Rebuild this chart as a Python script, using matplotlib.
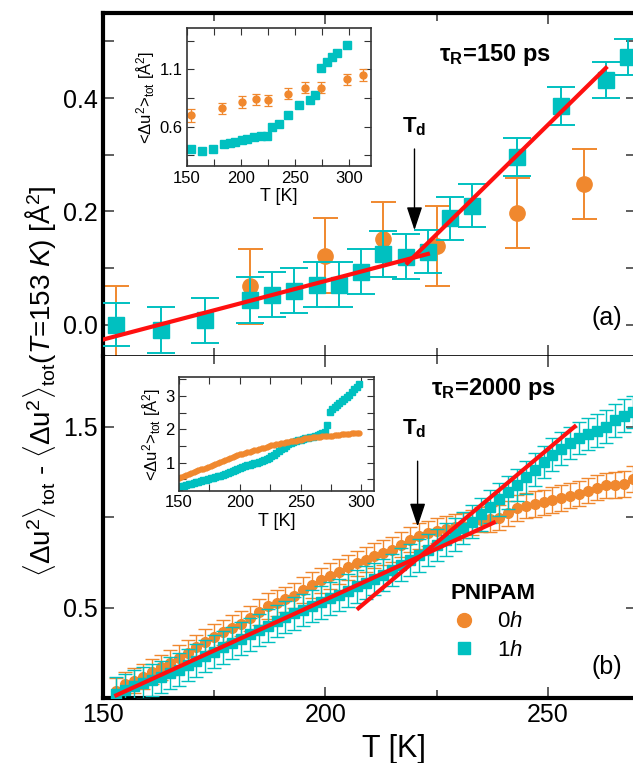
import matplotlib
matplotlib.use('Agg')
import matplotlib.pyplot as plt
from matplotlib.lines import Line2D
from matplotlib.ticker import MultipleLocator

plt.rcParams['font.family'] = ['Liberation Sans', 'DejaVu Sans']
plt.rcParams['mathtext.fontset'] = 'custom'
plt.rcParams['mathtext.rm'] = 'Liberation Sans'
plt.rcParams['mathtext.it'] = 'Liberation Sans:italic'
plt.rcParams['mathtext.bf'] = 'Liberation Sans:bold'

c0 = '#f0882e'   # 0h
c1 = '#00c0c0'   # 1h
cfit = '#ff1010'

# ---- tau_R = 150 ps : MSD difference to T=153 K
T_a1 = [153, 163, 173, 183, 188, 193, 198, 203, 208, 213, 218, 223, 228, 233, 243, 253, 263, 268]
d_a1 = [0.0, -0.009, 0.008, 0.044, 0.053, 0.06, 0.071, 0.071, 0.094, 0.125, 0.12, 0.129,
        0.188, 0.21, 0.296, 0.386, 0.432, 0.472]
e_a1 = [0.038, 0.04, 0.04, 0.04, 0.04, 0.04, 0.04, 0.04, 0.04, 0.04, 0.04, 0.038,
        0.038, 0.038, 0.034, 0.033, 0.032, 0.032]
T_a0 = [153, 183, 200, 213, 225, 243, 258]
d_a0 = [0.0, 0.068, 0.122, 0.151, 0.139, 0.197, 0.248]
e_a0 = [0.069, 0.066, 0.066, 0.066, 0.07, 0.062, 0.062]

# linear fits below / above Td
fitA_lo_T = [150, 223]
fitA_lo = [-0.026, 0.125]
fitA_hi_T = [218.4, 263]
fitA_hi = [0.109, 0.453]
Td_a = 220

# inset: absolute MSD, tau_R = 150 ps
Ti_a1 = [154, 164, 174, 184, 190, 195, 201, 206, 212, 219, 224, 229, 235, 244, 254, 264,
         269, 274, 280, 284, 289, 298]
ui_a1 = [0.403, 0.388, 0.403, 0.447, 0.456, 0.462, 0.483, 0.492, 0.512, 0.52, 0.52, 0.594,
         0.618, 0.697, 0.785, 0.835, 0.873, 1.109, 1.167, 1.211, 1.246, 1.314]
Ti_a0 = [154, 183, 201, 214, 225, 244, 259, 274, 298, 313]
ui_a0 = [0.697, 0.76, 0.814, 0.838, 0.829, 0.888, 0.941, 0.941, 1.012, 1.05]
ei_a0 = [0.055, 0.05, 0.05, 0.05, 0.05, 0.05, 0.05, 0.05, 0.05, 0.05]

# ---- tau_R = 2000 ps
T_b = [153, 155, 157, 159, 161, 163, 165, 167, 169, 171, 173, 175, 177, 179, 181, 183, 185,
       187, 189, 191, 193, 195, 197, 199, 201, 203, 205, 207, 209, 211, 213, 215, 217, 219,
       221, 223, 225, 227, 229, 231, 233, 235, 237, 239, 241, 243, 245, 247, 249, 251, 253,
       255, 257, 259, 261, 263, 265, 267, 269]
d_b0 = [0.04, 0.075, 0.095, 0.117, 0.145, 0.17, 0.195, 0.222, 0.25, 0.28, 0.31, 0.338, 0.362,
        0.386, 0.41, 0.44, 0.475, 0.508, 0.525, 0.545, 0.566, 0.596, 0.625, 0.65, 0.675,
        0.698, 0.722, 0.745, 0.765, 0.786, 0.803, 0.82, 0.848, 0.875, 0.895, 0.91, 0.925,
        0.935, 0.945, 0.953, 0.97, 0.985, 0.99, 0.996, 1.02, 1.05, 1.063, 1.072, 1.081,
        1.095, 1.106, 1.118, 1.13, 1.145, 1.163, 1.176, 1.178, 1.183, 1.21]
d_b1 = [0.024, 0.045, 0.066, 0.083, 0.099, 0.116, 0.137, 0.157, 0.182, 0.207, 0.232, 0.256,
        0.28, 0.304, 0.328, 0.352, 0.376, 0.4, 0.426, 0.447, 0.467, 0.487, 0.508, 0.528,
        0.55, 0.57, 0.593, 0.617, 0.637, 0.658, 0.68, 0.708, 0.737, 0.762, 0.788, 0.817,
        0.846, 0.875, 0.904, 0.94, 0.975, 1.015, 1.057, 1.098, 1.137, 1.178, 1.22, 1.262,
        1.305, 1.345, 1.378, 1.41, 1.438, 1.458, 1.478, 1.5, 1.534, 1.56, 1.58]
err_b0 = 0.07
err_b1 = 0.09

fitB_lo_T = [153, 237.8]
fitB_lo = [0.015, 0.969]
fitB_hi_T = [207.4, 256]
fitB_hi = [0.496, 1.5]
Td_b = 220.7

# inset: absolute MSD, tau_R = 2000 ps
Ti_b = [150, 152, 154, 156, 158, 160, 162, 164, 166, 168, 170, 172, 174, 176, 178, 180, 182,
        184, 186, 188, 190, 192, 194, 196, 198, 200, 202, 204, 206, 208, 210, 212, 214, 216,
        218, 220, 222, 224, 226, 228, 230, 232, 234, 236, 238, 240, 242, 244, 246, 248, 250,
        252, 254, 256, 258, 260, 262, 264, 266, 268, 270, 272, 274, 276, 278, 280, 282, 284,
        286, 288, 290, 292, 294, 296, 298]
ui_b0 = [0.53, 0.57, 0.6, 0.63, 0.66, 0.68, 0.71, 0.74, 0.77, 0.8, 0.82, 0.85, 0.88, 0.91,
         0.94, 0.97, 0.99, 1.02, 1.05, 1.08, 1.11, 1.14, 1.17, 1.2, 1.23, 1.25, 1.27, 1.29,
         1.31, 1.33, 1.35, 1.37, 1.39, 1.41, 1.43, 1.45, 1.48, 1.5, 1.52, 1.53, 1.55, 1.56,
         1.58, 1.59, 1.61, 1.63, 1.64, 1.65, 1.66, 1.67, 1.69, 1.71, 1.73, 1.74, 1.75, 1.76,
         1.77, 1.78, 1.78, 1.79, 1.79, 1.8, 1.8, 1.81, 1.82, 1.83, 1.84, 1.85, 1.86, 1.86,
         1.87, 1.88, 1.89, 1.89, 1.9]
ui_b1 = [0.27, 0.29, 0.31, 0.33, 0.35, 0.37, 0.39, 0.41, 0.43, 0.45, 0.47, 0.49, 0.51, 0.53,
         0.55, 0.57, 0.59, 0.61, 0.64, 0.66, 0.69, 0.72, 0.75, 0.78, 0.82, 0.85, 0.87, 0.9,
         0.92, 0.94, 0.96, 0.98, 1.0, 1.03, 1.06, 1.09, 1.11, 1.14, 1.19, 1.24, 1.3, 1.35,
         1.4, 1.45, 1.5, 1.55, 1.59, 1.62, 1.65, 1.67, 1.69, 1.71, 1.73, 1.75, 1.77, 1.78,
         1.8, 1.83, 1.86, 1.89, 1.93, 2.14, 2.53, 2.6, 2.66, 2.72, 2.78, 2.84, 2.9, 2.96,
         3.04, 3.12, 3.2, 3.28, 3.35]


fig = plt.figure(figsize=(6.33, 7.63), dpi=100)
ax_a = fig.add_axes([0.1627, 0.5334, 0.8436, 0.4496])
ax_b = fig.add_axes([0.1627, 0.0852, 0.8436, 0.4482])

for ax in (ax_a, ax_b):
    ax.set_xlim(150, 270)
    ax.xaxis.set_major_locator(MultipleLocator(50))
    ax.xaxis.set_minor_locator(MultipleLocator(25))
    ax.tick_params(which='both', direction='in', top=True, right=True,
                   width=1.2, color='#444444', labelsize=18)
    ax.tick_params(which='major', length=8)
    ax.tick_params(which='minor', length=6)
    for s in ax.spines.values():
        s.set_linewidth(3)

ax_a.spines['bottom'].set_linewidth(1.2)
ax_b.spines['top'].set_visible(False)
ax_a.tick_params(labelbottom=False)

# panel (a)
ax_a.set_ylim(-0.055, 0.55)
ax_a.set_yticks([0.0, 0.1, 0.2, 0.3, 0.4, 0.5])
ax_a.set_yticklabels(['0.0', '', '0.2', '', '0.4', ''])
ax_a.errorbar(T_a0, d_a0, yerr=e_a0, fmt='o', color=c0, ms=11, elinewidth=1.4,
              capsize=9, capthick=1.4, zorder=2)
ax_a.errorbar(T_a1, d_a1, yerr=e_a1, fmt='s', color=c1, ms=11, elinewidth=1.4,
              capsize=10, capthick=1.4, zorder=3)
ax_a.plot(fitA_lo_T, fitA_lo, color=cfit, lw=3, zorder=5)
ax_a.plot(fitA_hi_T, fitA_hi, color=cfit, lw=3, zorder=5)
ax_a.annotate('', xy=(Td_a, 0.162), xytext=(Td_a, 0.315),
              arrowprops=dict(arrowstyle='-|>,head_length=0.9,head_width=0.3',
                              color='k', lw=1, mutation_scale=16), zorder=6)
ax_a.text(Td_a, 0.35, r'T$_\mathbf{d}$', fontsize=16, fontweight='bold', ha='center', va='center')
ax_a.text(238, 0.476, r'τ$_\mathbf{R}$=150 ps', fontsize=17, fontweight='bold',
          ha='center', va='center')
ax_a.text(266.6, 0.012, '(a)', fontsize=18, ha='right', va='center')

# panel (b)
ax_b.set_ylim(0.0, 1.89)
ax_b.set_yticks([0.5, 1.0, 1.5])
ax_b.set_yticklabels(['0.5', '', '1.5'])
ax_b.errorbar(T_b, d_b0, yerr=err_b0, fmt='o', color=c0, ms=7, elinewidth=1,
              capsize=5, capthick=1, zorder=2)
ax_b.errorbar(T_b, d_b1, yerr=err_b1, fmt='s', color=c1, ms=6.5, elinewidth=1,
              capsize=5, capthick=1, zorder=3)
ax_b.plot(fitB_lo_T, fitB_lo, color=cfit, lw=3, zorder=5)
ax_b.plot(fitB_hi_T, fitB_hi, color=cfit, lw=3, zorder=5)
ax_b.annotate('', xy=(Td_b, 0.932), xytext=(Td_b, 1.324),
              arrowprops=dict(arrowstyle='-|>,head_length=0.9,head_width=0.3',
                              color='k', lw=1, mutation_scale=16), zorder=6)
ax_b.text(Td_b - 0.8, 1.487, r'T$_\mathbf{d}$', fontsize=16, fontweight='bold',
          ha='center', va='center')
ax_b.text(237.8, 1.709, r'τ$_\mathbf{R}$=2000 ps', fontsize=17, fontweight='bold',
          ha='center', va='center')
ax_b.text(266.6, 0.172, '(b)', fontsize=18, ha='right', va='center')

handles = [Line2D([], [], ls='none', marker='o', color=c0, ms=10),
           Line2D([], [], ls='none', marker='s', color=c1, ms=8)]
leg = ax_b.legend(handles, ['0$h$', '1$h$'], title='PNIPAM', loc='upper left',
                  bbox_to_anchor=(0.694, 0.251), bbox_transform=fig.transFigure,
                  frameon=False, fontsize=16, alignment='left', handletextpad=0.9,
                  borderpad=0, labelspacing=0.35, handlelength=1.2,
                  title_fontproperties={'weight': 'bold', 'size': 16})

fig.text(0.622, 0.018, 'T [K]', fontsize=22, ha='center', va='center')
fig.text(0.063, 0.5,
         r'$\langle\Delta$u$^2\rangle_\mathrm{tot}$ - $\langle\Delta$u$^2\rangle_\mathrm{tot}$($T$=153 $K$) [Å$^2$]',
         fontsize=20, rotation=90, ha='center', va='center')

# insets
in_a = fig.add_axes([0.295, 0.7818, 0.2905, 0.1811])
in_a.errorbar(Ti_a0, ui_a0, yerr=ei_a0, fmt='o', color=c0, ms=5, elinewidth=0.9,
              capsize=3, capthick=0.9)
in_a.plot(Ti_a1, ui_a1, 's', color=c1, ms=5.5)
in_a.set_xlim(150, 320)
in_a.set_ylim(0.25, 1.46)
in_a.set_yticks([0.35, 0.6, 0.85, 1.1, 1.35])
in_a.set_yticklabels(['', '0.6', '', '1.1', ''])

in_b = fig.add_axes([0.2828, 0.3569, 0.3073, 0.1486])
in_b.errorbar(Ti_b, ui_b0, yerr=0.03, fmt='o', color=c0, ms=3.5, elinewidth=0.8, capsize=0)
in_b.plot(Ti_b, ui_b1, 's', color=c1, ms=3.8)
in_b.set_xlim(150, 310)
in_b.set_ylim(0.16, 3.56)
in_b.yaxis.set_major_locator(MultipleLocator(1))
in_b.yaxis.set_minor_locator(MultipleLocator(0.5))

for ax in (in_a, in_b):
    ax.xaxis.set_major_locator(MultipleLocator(50))
    ax.xaxis.set_minor_locator(MultipleLocator(25))
    ax.tick_params(which='both', direction='in', top=True, right=True,
                   width=0.8, color='#333333', labelsize=12, pad=3)
    ax.tick_params(which='major', length=5)
    ax.tick_params(which='minor', length=5)
    for s in ax.spines.values():
        s.set_linewidth(1.2)
        s.set_color('#333333')
    ax.set_xlabel('T [K]', fontsize=13, labelpad=2)
    ax.set_ylabel(r'<$\Delta$u$^2$>$_\mathrm{tot}$ [Å$^2$]', fontsize=12, labelpad=2)

fig.savefig('out.png', dpi=100)
